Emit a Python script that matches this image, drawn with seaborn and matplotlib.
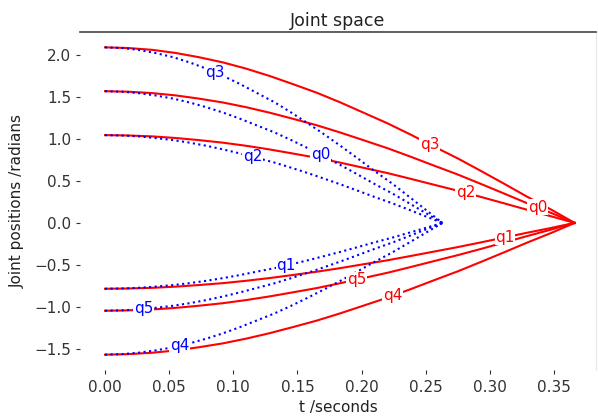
import numpy as np
import pandas as pd
import matplotlib
matplotlib.use("Agg")
import matplotlib.pyplot as plt
import seaborn as sns

# sample times (s) for the two trajectories
t_red = [0.0, 0.018, 0.037, 0.055, 0.073, 0.092, 0.110, 0.128, 0.146, 0.165, 0.183,
         0.201, 0.220, 0.238, 0.256, 0.275, 0.293, 0.311, 0.329, 0.348, 0.366]
t_blue = [0.0, 0.013, 0.026, 0.039, 0.053, 0.066, 0.079, 0.092, 0.105, 0.118, 0.132,
          0.145, 0.158, 0.171, 0.184, 0.197, 0.210, 0.224, 0.237, 0.250, 0.263]

# joint positions (rad) at those samples
q0 = [1.571, 1.565, 1.548, 1.521, 1.483, 1.436, 1.380, 1.316, 1.244, 1.165, 1.080,
      0.989, 0.892, 0.791, 0.686, 0.577, 0.465, 0.351, 0.235, 0.118, 0.0]
q1 = [-0.785, -0.782, -0.774, -0.760, -0.741, -0.718, -0.690, -0.658, -0.622, -0.582, -0.540,
      -0.494, -0.446, -0.395, -0.343, -0.288, -0.232, -0.175, -0.117, -0.059, 0.0]
q2 = [1.047, 1.043, 1.032, 1.013, 0.988, 0.957, 0.920, 0.877, 0.829, 0.777, 0.720,
      0.659, 0.595, 0.527, 0.457, 0.384, 0.310, 0.234, 0.157, 0.078, 0.0]
q3 = [2.094, 2.086, 2.064, 2.027, 1.977, 1.914, 1.840, 1.754, 1.658, 1.553, 1.440,
      1.318, 1.189, 1.055, 0.914, 0.769, 0.620, 0.468, 0.313, 0.157, 0.0]
q4 = [-1.571, -1.565, -1.548, -1.521, -1.483, -1.436, -1.380, -1.316, -1.244, -1.165, -1.080,
      -0.989, -0.892, -0.791, -0.686, -0.577, -0.465, -0.351, -0.235, -0.118, 0.0]
q5 = [-1.047, -1.043, -1.032, -1.013, -0.988, -0.957, -0.920, -0.877, -0.829, -0.777, -0.720,
      -0.659, -0.595, -0.527, -0.457, -0.384, -0.310, -0.234, -0.157, -0.078, 0.0]

joints = {"q0": q0, "q1": q1, "q2": q2, "q3": q3, "q4": q4, "q5": q5}

# where the inline labels sit along each curve (t)
red_label_t = {"q0": 0.337, "q1": 0.312, "q2": 0.281, "q3": 0.253, "q4": 0.224, "q5": 0.196}
blue_label_t = {"q0": 0.168, "q1": 0.141, "q2": 0.115, "q3": 0.086, "q4": 0.058, "q5": 0.030}

fig = plt.figure(figsize=(5.98, 4.17), dpi=100)
ax = fig.add_axes([80 / 598, 47 / 417, 516 / 598, 338 / 417])

for name, q in joints.items():
    sns.lineplot(x=t_red, y=q, ax=ax, color="red", linewidth=1.5, zorder=2)
for name, q in joints.items():
    sns.lineplot(x=t_blue, y=q, ax=ax, color="blue", linewidth=1.5, linestyle=":", zorder=3)

ax.set_xlim(-0.0195, 0.3827)
ax.set_ylim(-1.754, 2.277)
ax.set_xticks(np.arange(0, 0.36, 0.05))
ax.set_yticks(np.arange(-1.5, 2.01, 0.5))
ax.xaxis.set_major_formatter(matplotlib.ticker.FormatStrFormatter("%.2f"))
ax.tick_params(labelsize=11, colors="#333333", length=3)
ax.tick_params(axis="x", pad=4.5)

ax.spines["left"].set_visible(False)
ax.spines["bottom"].set_visible(False)
ax.spines["top"].set_color("#444444")
ax.spines["top"].set_linewidth(1.2)
ax.spines["right"].set_color("#e8e8e8")

ax.set_title("Joint space", fontsize=12.5, color="#222222", pad=4)
ax.set_xlabel("t /seconds", fontsize=11, color="#222222", labelpad=3)
ax.set_ylabel("Joint positions /radians", fontsize=11, color="#222222", labelpad=7)

for name, q in joints.items():
    for t, tl, color in ((t_red, red_label_t[name], "red"), (t_blue, blue_label_t[name], "blue")):
        ax.text(tl, np.interp(tl, t, q), name, color=color, fontsize=11,
                ha="center", va="center", zorder=5,
                bbox=dict(facecolor="white", edgecolor="none", pad=0.3))

fig.savefig("out.png", dpi=100)
